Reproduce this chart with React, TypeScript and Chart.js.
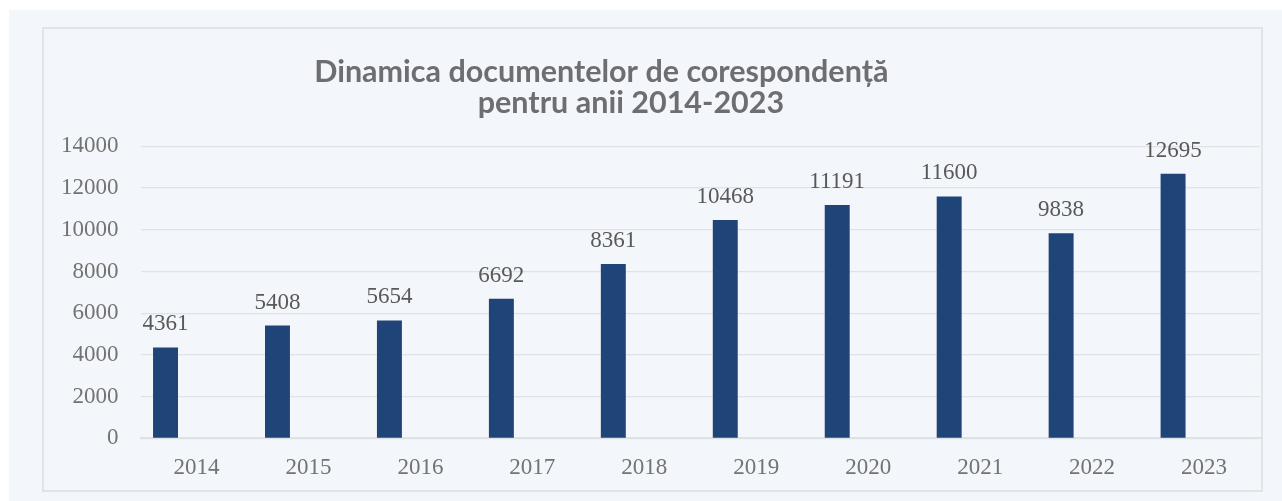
import React, { useEffect, useRef } from "react";
import { Chart, registerables } from "chart.js";

Chart.register(...registerables);

const years = ["2014", "2015", "2016", "2017", "2018", "2019", "2020", "2021", "2022", "2023"];
const documents = [4361, 5408, 5654, 6692, 8361, 10468, 11191, 11600, 9838, 12695];
const emptySeries: (number | null)[] = [];
const titleLine1 = "Dinamica documentelor de corespondență";
const titleLine2 = "pentru anii 2014-2023";
const yMax = 14000;
const yStep = 2000;

const SERIF = '"Liberation Serif", "Times New Roman", serif';

const valueLabels = {
  id: "valueLabels",
  afterDatasetsDraw(chart: any) {
    const ctx = chart.ctx;
    const meta = chart.getDatasetMeta(0);
    ctx.save();
    ctx.font = "normal 400 23px " + SERIF;
    ctx.fillStyle = "#595959";
    ctx.textAlign = "center";
    ctx.textBaseline = "alphabetic";
    meta.data.forEach((bar: any, i: number) => {
      ctx.fillText(String(documents[i]), bar.x, bar.y - 17);
    });
    ctx.restore();
  },
};

export default function App() {
  const ref = useRef<HTMLCanvasElement | null>(null);
  useEffect(() => {
    if (!ref.current) return;
    const pad = (n: number) => " ".repeat(n);
    const chart = new Chart(ref.current, {
      type: "bar",
      data: {
        labels: years,
        datasets: [
          {
            label: "Documente",
            data: documents,
            backgroundColor: "#1f4477",
            categoryPercentage: 1.106,
            barPercentage: 0.403,
          },
          {
            label: "",
            data: emptySeries,
            backgroundColor: "transparent",
            categoryPercentage: 1.106,
            barPercentage: 0.403,
          },
        ],
      },
      options: {
        animation: false,
        responsive: false,
        maintainAspectRatio: false,
        layout: { padding: { left: -5, right: 1, top: 0, bottom: -8 } },
        plugins: {
          legend: { display: false },
          tooltip: { enabled: false },
          title: {
            display: true,
            text: [titleLine1 + pad(13), titleLine2 + pad(5)],
            color: "#6e6e72",
            font: { family: "Lato", size: 30.5, weight: "bold", lineHeight: 1.03 },
            padding: { top: 27, bottom: 27.6 },
          },
        },
        scales: {
          x: {
            grid: { display: false, drawTicks: false },
            border: { display: true, color: "#dfe1e4", width: 2 },
            ticks: {
              color: "#737373",
              font: { family: SERIF, size: 23 },
              padding: 16,
              maxRotation: 0,
            },
          },
          y: {
            min: 0,
            max: yMax,
            grid: { color: "#e0e2e5", lineWidth: 1.3, drawTicks: false },
            border: { display: false },
            ticks: {
              stepSize: yStep,
              color: "#737373",
              font: { family: SERIF, size: 23 },
              padding: 22,
              callback: (v: any) => String(v),
            },
          },
        },
      },
      plugins: [valueLabels],
    });
    return () => chart.destroy();
  }, []);

  return (
    <div
      style={{
        position: "absolute",
        left: 9,
        top: 10,
        width: 1273,
        height: 491,
        background: "#f3f6fa",
      }}
    >
      <div
        style={{
          position: "absolute",
          left: 33,
          top: 17,
          width: 1217,
          height: 461,
          border: "2px solid #e1e3e6",
        }}
      >
        <canvas ref={ref} width={1217} height={461} style={{ display: "block" }} />
      </div>
    </div>
  );
}
